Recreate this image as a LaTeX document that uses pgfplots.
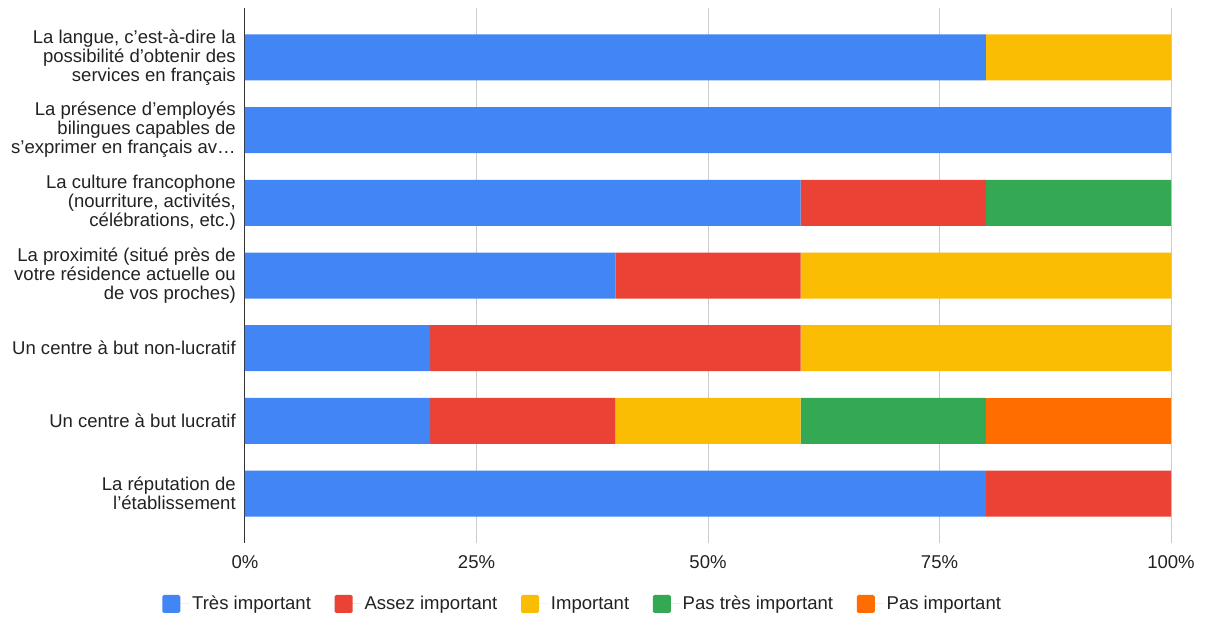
\documentclass[border=0pt]{standalone}
\usepackage{fontspec}
\setmainfont{Liberation Sans}
\usepackage{pgfplots}
\pgfplotsset{compat=1.18}
\definecolor{cA}{HTML}{4285F4}
\definecolor{cB}{HTML}{EA4335}
\definecolor{cC}{HTML}{FBBC04}
\definecolor{cD}{HTML}{34A853}
\definecolor{cE}{HTML}{FF6D01}
\definecolor{txt}{HTML}{222222}
\begin{document}
\begin{tikzpicture}[x=1pt,y=1pt]
\path[use as bounding box] (-183.75,-55.5) rectangle (720,407.25);
\begin{axis}[at={(0,0)}, anchor=south west, scale only axis,
  width=694.5pt, height=401.25pt,
  xbar stacked, bar width=34.5pt,
  xmin=0, xmax=100, ymin=-0.68, ymax=6.68, y dir=reverse,
  ytick={0,...,6},
  yticklabels={
    {La langue, c’est-à-dire la\\possibilité d’obtenir des\\services en français},
    {La présence d’employés\\bilingues capables de\\s’exprimer en français av…},
    {La culture francophone\\(nourriture, activités,\\célébrations, etc.)},
    {La proximité (situé près de\\votre résidence actuelle ou\\de vos proches)},
    {Un centre à but non-lucratif},
    {Un centre à but lucratif},
    {La réputation de\\l’établissement}},
  xtick={0,25,50,75,100},
  xticklabel={\pgfmathprintnumber{\tick}\%},
  /pgf/number format/assume math mode=true,
  major tick length=0pt,
  xmajorgrids, grid style={color=black!20, line width=0.75pt},
  axis y line*=left, axis x line*=bottom,
  x axis line style={draw=none},
  y axis line style={draw=black!80, line width=0.75pt},
  tick label style={font=\fontsize{13.9}{14.25}\selectfont, text=txt},
  yticklabel style={align=right, inner sep=0pt, xshift=-6.75pt},
  xticklabel style={inner sep=0pt, yshift=-9pt},
  legend columns=-1,
  legend style={draw=none, at={(0.365,-0.114)}, anchor=center,
    font=\fontsize{13.9}{14.25}\selectfont, text=txt,
    /tikz/every even column/.append style={column sep=15.75pt}},
  legend image code/.code={\fill[#1, rounded corners=1.2pt] (0pt,-6.75pt) rectangle (13.5pt,6.75pt); \path (0pt,0pt) -- (20.4pt,0pt);},
  every axis plot/.append style={draw=none},
]
\addplot[fill=cA] coordinates {(80,0) (100,1) (60,2) (40,3) (20,4) (20,5) (80,6)};
\addplot[fill=cB] coordinates {(0,0) (0,1) (20,2) (20,3) (40,4) (20,5) (20,6)};
\addplot[fill=cC] coordinates {(20,0) (0,1) (0,2) (40,3) (40,4) (20,5) (0,6)};
\addplot[fill=cD] coordinates {(0,0) (0,1) (20,2) (0,3) (0,4) (20,5) (0,6)};
\addplot[fill=cE] coordinates {(0,0) (0,1) (0,2) (0,3) (0,4) (20,5) (0,6)};
\legend{Très important, Assez important, Important, Pas très important, Pas important}
\end{axis}
\end{tikzpicture}
\end{document}
